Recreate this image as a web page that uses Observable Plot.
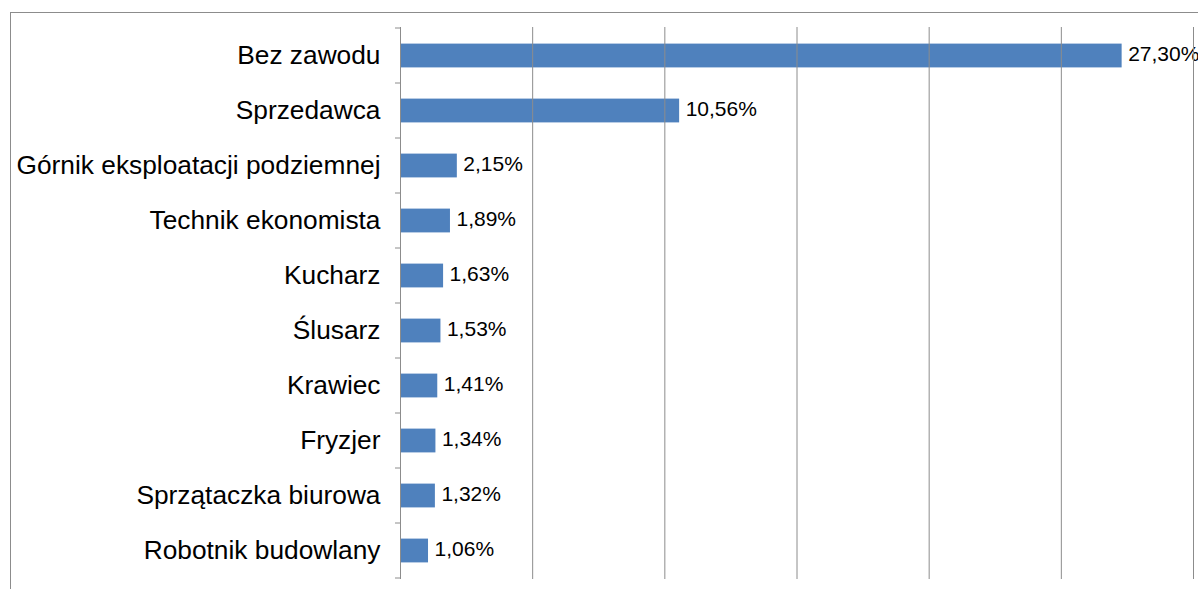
<!DOCTYPE html>
<html>
<head>
<meta charset="utf-8">
<script src="https://cdn.jsdelivr.net/npm/d3@7"></script>
<script src="https://cdn.jsdelivr.net/npm/@observablehq/plot@0.6"></script>
<style>
  html, body { margin: 0; padding: 0; background: #fff; overflow: hidden; width: 1198px; height: 589px; }
  #frame { position: absolute; left: 10px; top: 12px; width: 2000px; height: 2000px; border: 1px solid #8c8c8c; box-sizing: border-box; }
  #chart { position: absolute; left: 0; top: 0; }
</style>
</head>
<body>
<div id="frame"></div>
<div id="chart"></div>
<script>
const categories = [
  "Bez zawodu",
  "Sprzedawca",
  "Górnik eksploatacji podziemnej",
  "Technik ekonomista",
  "Kucharz",
  "Ślusarz",
  "Krawiec",
  "Fryzjer",
  "Sprzątaczka biurowa",
  "Robotnik budowlany"
];
const values = [27.30, 10.56, 2.15, 1.89, 1.63, 1.53, 1.41, 1.34, 1.32, 1.06];
const gridTicks = [5, 10, 15, 20, 25, 30];

const data = categories.map((c, i) => ({category: c, value: values[i]}));
const fmt = v => v.toFixed(2).replace(".", ",") + "%";

const plot = Plot.plot({
  width: 1198,
  height: 589,
  marginLeft: 400,
  marginRight: 5,
  marginTop: 27,
  marginBottom: 10,
  style: {fontFamily: "'Liberation Sans', Arial, Helvetica, sans-serif", background: "transparent", overflow: "visible"},
  x: {domain: [0, 30], axis: null},
  y: {domain: categories, padding: 0, axis: null},
  marks: [
    Plot.barX(data, {x: "value", y: "category", fill: "#4f81bd", insetTop: 15.6, insetBottom: 15.6}),
    Plot.text(data, {x: "value", y: "category", text: d => fmt(d.value), textAnchor: "start", dx: 6, dy: -1.5, fontSize: 21, fill: "#000"}),
    Plot.ruleX(gridTicks, {stroke: "#8c8c8c", strokeWidth: 1}),
    Plot.ruleX([0], {stroke: "#8c8c8c", strokeWidth: 1}),
    Plot.axisY({tickSize: 0, tickPadding: 20, fontSize: 26.3, fill: "#000", textAnchor: "end", label: null})
  ]
});

// tick marks at band boundaries on the y axis
const y = plot.scale("y");
const x = plot.scale("x");
const x0 = x.apply(0);
const bounds = categories.map(c => y.apply(c)).concat([y.apply(categories[categories.length - 1]) + y.bandwidth]);
d3.select(plot).append("g")
  .selectAll("line").data(bounds).join("line")
  .attr("x1", x0 - 5).attr("x2", x0)
  .attr("y1", d => d).attr("y2", d => d)
  .attr("stroke", "#8c8c8c").attr("stroke-width", 1);

document.getElementById("chart").append(plot);
</script>
</body>
</html>
